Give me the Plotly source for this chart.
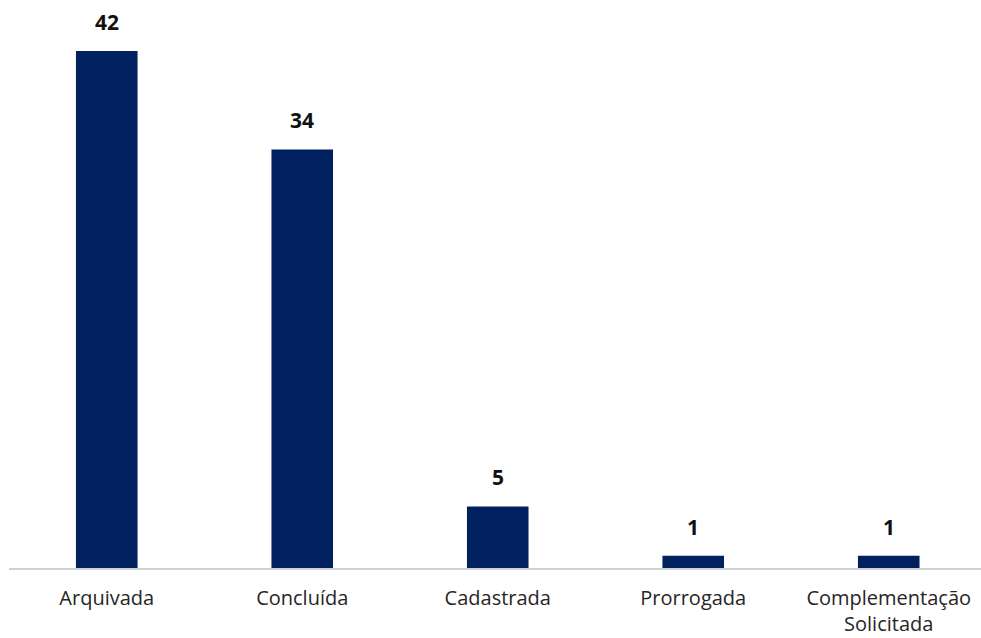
import plotly.graph_objects as go

# Situação das demandas
categorias = ["Arquivada", "Concluída", "Cadastrada", "Prorrogada", "Complementação<br>Solicitada"]
quantidades = [42, 34, 5, 1, 1]

cor_barra = "#002060"
fonte = "Open Sans"

fig = go.Figure(
    go.Bar(
        x=list(range(len(categorias))),
        y=quantidades,
        marker=dict(color=cor_barra, line=dict(width=0)),
        width=0.315,
        hoverinfo="skip",
    )
)

# Rótulos de valor acima das barras
for i, v in enumerate(quantidades):
    fig.add_annotation(
        x=i, y=v, text=f"<b>{v}</b>", showarrow=False,
        yanchor="bottom", yshift=13,
        font=dict(family=fonte, size=21, color="#111111"),
    )

fig.update_layout(
    width=981, height=638,
    margin=dict(l=9, r=0, t=0, b=70),
    paper_bgcolor="white", plot_bgcolor="white",
    showlegend=False,
    font=dict(family=fonte, size=20, color="#262626"),
    xaxis=dict(
        tickmode="array",
        tickvals=list(range(len(categorias))),
        ticktext=categorias,
        range=[-0.5, 4.472],
        showline=True, linecolor="#d0d0d0", linewidth=1.5,
        showgrid=False, zeroline=False, ticks="",
        ticklabelstandoff=11,
    ),
    yaxis=dict(range=[0, 46.14], visible=False, showgrid=False, zeroline=False),
)

fig.write_html("out.html")
